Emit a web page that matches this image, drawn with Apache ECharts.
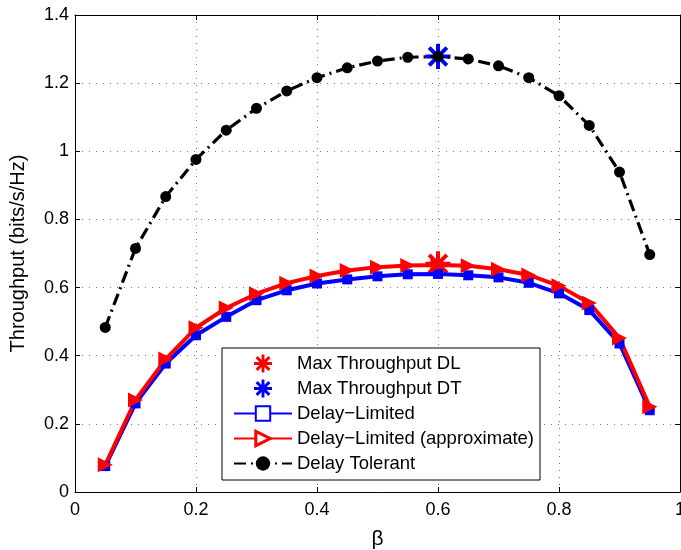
<!DOCTYPE html>
<html>
<head>
<meta charset="utf-8">
<script src="https://cdn.jsdelivr.net/npm/echarts@6/dist/echarts.min.js"></script>
<style>
  html, body { margin: 0; padding: 0; background: #fff; }
  #chart { width: 681px; height: 550px; }
</style>
</head>
<body>
<div id="chart"></div>
<script>
// beta values on the x axis
const betaValues = [0.05, 0.1, 0.15, 0.2, 0.25, 0.3, 0.35, 0.4, 0.45, 0.5,
  0.55, 0.6, 0.65, 0.7, 0.75, 0.8, 0.85, 0.9, 0.95]
const delayLimited = [0.076, 0.26, 0.377, 0.46, 0.514, 0.563, 0.592, 0.612, 0.624, 0.633,
  0.639, 0.64, 0.636, 0.63, 0.614, 0.583, 0.534, 0.436, 0.24]
const delayLimitedApprox = [0.08, 0.27, 0.39, 0.482, 0.54, 0.582, 0.613, 0.634, 0.65, 0.66,
  0.665, 0.666, 0.664, 0.654, 0.637, 0.605, 0.555, 0.452, 0.25]
const delayTolerant = [0.483, 0.715, 0.867, 0.976, 1.062, 1.126, 1.177, 1.216, 1.245, 1.265,
  1.276, 1.278, 1.271, 1.251, 1.216, 1.163, 1.076, 0.939, 0.697]
const maxDL = [0.6, 0.67]
const maxDT = [0.6, 1.278]
const xTicks = [0, 0.2, 0.4, 0.6, 0.8, 1]
const yTicks = [0, 0.2, 0.4, 0.6, 0.8, 1, 1.2, 1.4]

const font = 'Liberation Sans, Arial, Helvetica, sans-serif'
// matlab style asterisk
const star = 'path://M42 0h16v100h-16z M0 42h100v16h-100z M8.9 20.2L20.2 8.9L91.1 79.8L79.8 91.1z M79.8 8.9L91.1 20.2L20.2 91.1L8.9 79.8z'
const rightTri = 'path://M0 0L100 50L0 100z'

const pairs = ys => betaValues.map((b, i) => [b, ys[i]])

const chart = echarts.init(document.getElementById('chart'))

const axisCommon = {
  type: 'value',
  interval: 0.2,
  axisLine: { show: true, onZero: false, lineStyle: { color: '#000', width: 1 } },
  axisTick: { show: true, inside: true, length: 5, lineStyle: { color: '#000' } },
  splitLine: { show: false }
}

chart.setOption({
  animation: false,
  backgroundColor: '#fff',
  grid: { left: 75, right: 1, top: 15, bottom: 58, outerBoundsMode: 'none' },
  xAxis: [
    Object.assign({}, axisCommon, {
      position: 'bottom',
      min: xTicks[0],
      max: xTicks[xTicks.length - 1],
      name: 'β',
      nameLocation: 'middle',
      nameGap: 37,
      nameTextStyle: { fontFamily: font, fontSize: 21, color: '#000' },
      axisLabel: { color: '#000', fontFamily: font, fontSize: 18, margin: 9, alignMaxLabel: 'center', alignMinLabel: 'center' },
      splitLine: { show: true, lineStyle: { color: '#777', type: [1, 6], width: 1 } }
    }),
    Object.assign({}, axisCommon, {
      position: 'top',
      min: xTicks[0],
      max: xTicks[xTicks.length - 1],
      axisLabel: { show: false }
    })
  ],
  yAxis: [
    Object.assign({}, axisCommon, {
      position: 'left',
      min: yTicks[0],
      max: yTicks[yTicks.length - 1],
      name: 'Throughput (bits/s/Hz)',
      nameLocation: 'middle',
      nameGap: 47,
      nameTextStyle: { fontFamily: font, fontSize: 20, color: '#000' },
      axisLabel: { color: '#000', fontFamily: font, fontSize: 18, margin: 6 },
      splitLine: { show: true, lineStyle: { color: '#777', type: [1, 6], width: 1 } }
    }),
    Object.assign({}, axisCommon, {
      position: 'right',
      min: yTicks[0],
      max: yTicks[yTicks.length - 1],
      axisLabel: { show: false }
    })
  ],
  legend: {
    orient: 'vertical',
    left: 222,
    top: 348,
    padding: [6, 6, 7, 11],
    itemWidth: 58,
    itemHeight: 18,
    itemGap: 6,
    backgroundColor: '#fff',
    borderColor: '#000',
    borderWidth: 1,
    borderRadius: 0,
    textStyle: { fontFamily: font, fontSize: 18.5, color: '#000' },
    data: [
      { name: 'Max Throughput DL' },
      { name: 'Max Throughput DT' },
      { name: 'Delay−Limited', itemStyle: { color: '#fff', borderColor: '#0000ff', borderWidth: 2 } },
      { name: 'Delay−Limited (approximate)', itemStyle: { color: '#fff', borderColor: '#ff0000', borderWidth: 3 } },
      { name: 'Delay Tolerant' }
    ]
  },
  series: [
    {
      name: 'Max Throughput DT',
      type: 'scatter',
      symbol: star,
      symbolSize: 25,
      itemStyle: { color: '#0000ff', opacity: 1 },
      data: [maxDT]
    },
    {
      name: 'Delay Tolerant',
      type: 'line',
      symbol: 'circle',
      symbolSize: 11,
      showAllSymbol: true,
      itemStyle: { color: '#000' },
      lineStyle: { color: '#000', width: 3.2, type: [12, 5, 2, 5] },
      data: pairs(delayTolerant)
    },
    {
      name: 'Delay−Limited',
      type: 'line',
      symbol: 'rect',
      symbolSize: 10,
      showAllSymbol: true,
      itemStyle: { color: '#0000ff' },
      lineStyle: { color: '#0000ff', width: 4 },
      data: pairs(delayLimited)
    },
    {
      name: 'Delay−Limited (approximate)',
      type: 'line',
      symbol: rightTri,
      symbolSize: 15,
      showAllSymbol: true,
      itemStyle: { color: '#ff0000' },
      lineStyle: { color: '#ff0000', width: 4 },
      data: pairs(delayLimitedApprox)
    },
    {
      name: 'Max Throughput DL',
      type: 'scatter',
      symbol: star,
      symbolSize: 25,
      itemStyle: { color: '#ff0000', opacity: 1 },
      data: [maxDL]
    }
  ]
})
</script>
</body>
</html>
